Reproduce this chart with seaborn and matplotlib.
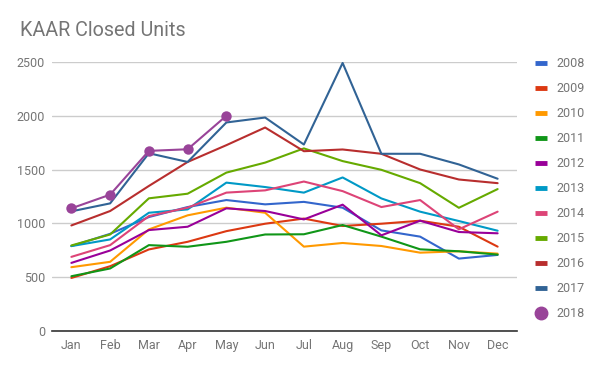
import matplotlib
matplotlib.use("Agg")
import matplotlib.pyplot as plt
import seaborn as sns
import pandas as pd
from matplotlib.lines import Line2D

months = ['Jan', 'Feb', 'Mar', 'Apr', 'May', 'Jun', 'Jul', 'Aug', 'Sep', 'Oct', 'Nov', 'Dec']
y2008 = [789, 903, 1059, 1152, 1217, 1177, 1200, 1146, 935, 877, 673, 707]
y2009 = [493, 602, 758, 829, 928, 997, 1045, 976, 997, 1025, 969, 784]
y2010 = [593, 643, 944, 1075, 1146, 1099, 784, 818, 790, 728, 741, 719]
y2011 = [509, 581, 798, 783, 829, 897, 899, 985, 877, 759, 741, 710]
y2012 = [633, 748, 938, 969, 1140, 1115, 1037, 1174, 889, 1025, 920, 908]
y2013 = [789, 851, 1099, 1130, 1379, 1338, 1286, 1427, 1232, 1109, 1022, 932]
y2014 = [689, 798, 1068, 1146, 1286, 1307, 1389, 1300, 1152, 1217, 945, 1109]
y2015 = [795, 897, 1233, 1276, 1472, 1565, 1697, 1579, 1498, 1374, 1145, 1319]
y2016 = [981, 1115, 1348, 1571, 1727, 1891, 1671, 1687, 1647, 1501, 1408, 1374]
y2017 = [1112, 1186, 1652, 1571, 1938, 1984, 1733, 2491, 1647, 1647, 1548, 1415]
y2018 = [1140, 1267, 1674, 1689, 2000]

series = {
    '2008': y2008, '2009': y2009, '2010': y2010, '2011': y2011, '2012': y2012,
    '2013': y2013, '2014': y2014, '2015': y2015, '2016': y2016, '2017': y2017,
}
colors = ['#3366cc', '#dc3912', '#ff9900', '#109618', '#990099',
          '#0099c6', '#dd4477', '#66aa00', '#b82e2e', '#316395']
color2018 = '#994499'

rows = []
for yr, vals in series.items():
    for i, v in enumerate(vals):
        rows.append({'year': yr, 'm': i, 'units': v})
df = pd.DataFrame(rows)
df18 = pd.DataFrame({'m': list(range(len(y2018))), 'units': y2018})

sns.set_theme(style='white')
plt.rcParams['font.family'] = ['Roboto', 'DejaVu Sans']

fig = plt.figure(figsize=(6.0, 3.71), dpi=100)
ax = fig.add_axes([52/600, 1-331/371, (517-52)/600, (331-62)/371])

sns.lineplot(data=df, x='m', y='units', hue='year', palette=colors, linewidth=1.5,
             ax=ax, legend=False, sort=False)
sns.lineplot(data=df18, x='m', y='units', color=color2018, linewidth=1.5,
             marker='o', markersize=7.5, markeredgewidth=0, ax=ax, legend=False)

ax.set_xlim(-0.5, 11.5)
ax.set_ylim(0, 2500)
ax.set_yticks([0, 500, 1000, 1500, 2000, 2500])
ax.set_xticks(range(12))
ax.set_xticklabels(months)
ax.yaxis.grid(True, color='#cccccc', linewidth=1)
ax.set_axisbelow(True)
for s in ['top', 'right', 'left']:
    ax.spines[s].set_visible(False)
ax.spines['bottom'].set_color('#333333')
ax.spines['bottom'].set_linewidth(1.2)
ax.tick_params(axis='both', length=0, labelsize=9, colors='#757575')
ax.tick_params(axis='y', pad=5)
ax.tick_params(axis='x', pad=6)
ax.set_xlabel('')
ax.set_ylabel('')

fig.text(20/600, 1-31/371, 'KAAR Closed Units', fontsize=14.2, color='#757575',
         ha='left', va='center')

handles = [Line2D([0], [0], color=c, linewidth=3.5, solid_capstyle='butt') for c in colors]
handles.append(Line2D([0], [0], color=color2018, linestyle='none', marker='o', markersize=9))
labels = list(series.keys()) + ['2018']
leg = fig.legend(handles, labels, loc='upper left', bbox_to_anchor=(530/600, 1-52/371),
                 frameon=False, fontsize=9, labelcolor='#757575', handlelength=0.95,
                 handletextpad=0.75, labelspacing=0.96, borderaxespad=0)

fig.savefig('out.png', dpi=100)
